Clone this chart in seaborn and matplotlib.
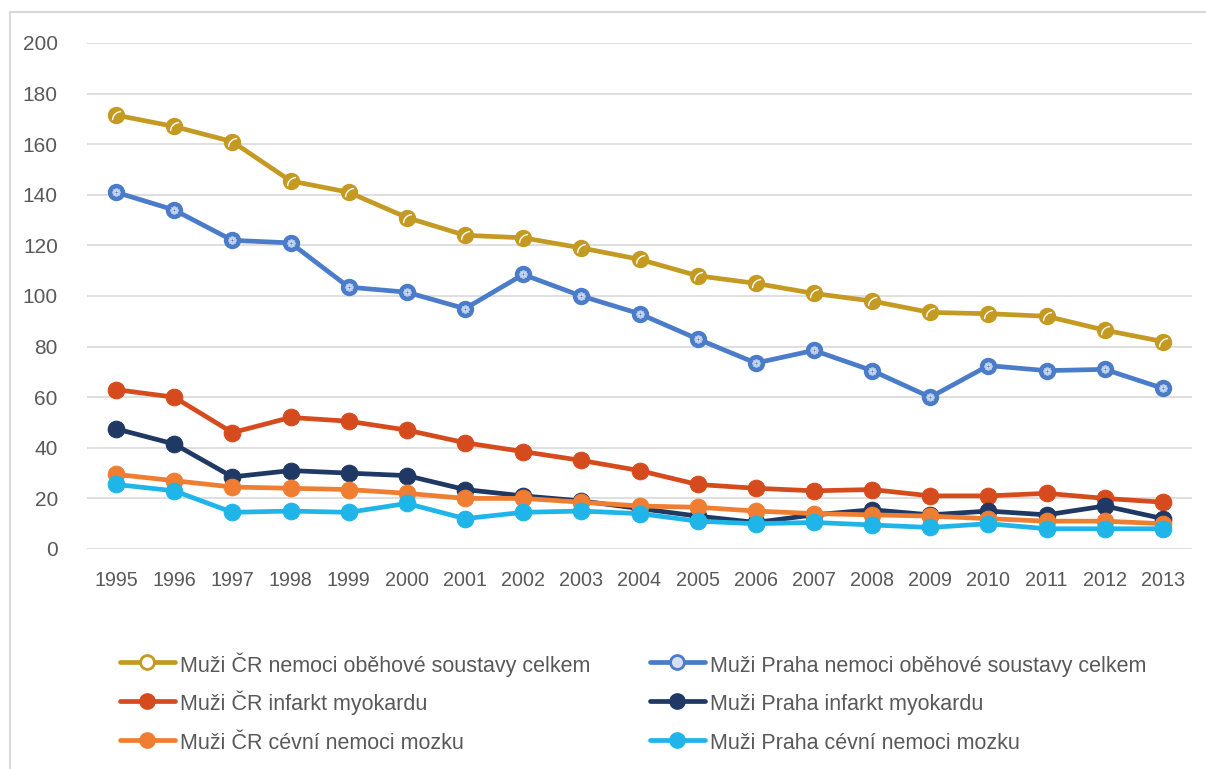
import matplotlib
matplotlib.use("Agg")
import matplotlib.pyplot as plt
import seaborn as sns
import pandas as pd
from matplotlib.lines import Line2D
from matplotlib.patches import Rectangle

sns.set_theme(style="white")
plt.rcParams['font.family'] = ['Liberation Sans', 'DejaVu Sans']

years = [str(y) for y in range(1995, 2014)]

cr_celkem = [171.5, 167, 161, 145.5, 141, 131, 124, 123, 119, 114.5, 108, 105, 101, 98, 93.5, 93, 92, 86.5, 82]
praha_celkem = [141, 134, 122, 121, 103.5, 101.5, 95, 108.5, 100, 93, 83, 73.5, 78.5, 70.5, 60, 72.5, 70.5, 71, 63.5]
cr_infarkt = [63, 60, 46, 52, 50.5, 47, 42, 38.5, 35, 31, 25.5, 24, 23, 23.5, 21, 21, 22, 20, 18.5]
praha_infarkt = [47.5, 41.5, 28.5, 31, 30, 29, 23.5, 21, 19, 16, 13, 10.5, 13.5, 15.5, 13.5, 15, 13.5, 17, 12]
cr_mozek = [29.5, 27, 24.5, 24, 23.5, 22, 20, 20, 18.5, 17, 16.5, 15, 14, 13.5, 13, 12, 11, 11, 10]
praha_mozek = [25.5, 23, 14.5, 15, 14.5, 18, 12, 14.5, 15, 14, 11, 10, 10.5, 9.5, 8.5, 10, 8, 8, 8]

labels = [
    "Muži ČR nemoci oběhové soustavy celkem",
    "Muži Praha nemoci oběhové soustavy celkem",
    "Muži ČR infarkt myokardu",
    "Muži Praha infarkt myokardu",
    "Muži ČR cévní nemoci mozku",
    "Muži Praha cévní nemoci mozku",
]
series = [cr_celkem, praha_celkem, cr_infarkt, praha_infarkt, cr_mozek, praha_mozek]
colors = ["#C49A22", "#4A7CC9", "#D64B1E", "#1F3864", "#F07E32", "#1FB5E8"]

fig = plt.figure(figsize=(12.06, 7.69), dpi=100)
ax = fig.add_axes([87/1206, 1-549/769, (1192-87)/1206, (549-43)/769])

for i in range(6):
    df = pd.DataFrame({"year": years, "value": series[i]})
    c = colors[i]
    if i == 0:
        sns.lineplot(data=df, x="year", y="value", ax=ax, color=c, linewidth=3.4,
                     marker="o", markersize=11, markerfacecolor=c, markeredgecolor=c,
                     markeredgewidth=1.5, zorder=3 + i)
        sns.scatterplot(data=df, x="year", y="value", ax=ax, color="white", marker="$\u25DC$",
                        s=45, linewidth=0, zorder=3.5 + i, legend=False)
    elif i == 1:
        sns.lineplot(data=df, x="year", y="value", ax=ax, color=c, linewidth=3.4,
                     marker="o", markersize=11, markerfacecolor=c, markeredgecolor=c,
                     markeredgewidth=1.5, zorder=3 + i)
        sns.scatterplot(data=df, x="year", y="value", ax=ax, color="white", marker="$\u2741$",
                        s=40, linewidth=0, zorder=3.5 + i, legend=False)
    else:
        sns.lineplot(data=df, x="year", y="value", ax=ax, color=c, linewidth=3.4,
                     marker="o", markersize=12, markerfacecolor=c, markeredgecolor=c,
                     zorder=3 + i)

ax.set_xlim(-0.5, len(years) - 0.5)
ax.set_ylim(0, 200)
ax.set_yticks(range(0, 201, 20))
ax.yaxis.grid(True, color="#D9D9D9", linewidth=1.2)
ax.xaxis.grid(False)
for s in ax.spines.values():
    s.set_visible(False)
ax.set_xlabel("")
ax.set_ylabel("")
ax.tick_params(axis="both", length=0, labelcolor="#595959")
ax.tick_params(axis="x", labelsize=14.2, pad=16)
ax.tick_params(axis="y", labelsize=15, pad=21)
ax.set_axisbelow(True)

# legend (row-major order like the reference)
handles = []
for i in range(6):
    c = colors[i]
    if i == 0:
        h = Line2D([], [], color=c, linewidth=3.4, marker="o", markersize=10,
                   markerfacecolor="white", markeredgecolor=c, markeredgewidth=2)
    elif i == 1:
        h = Line2D([], [], color=c, linewidth=3.4, marker="o", markersize=10,
                   markerfacecolor="#D5E0F3", markeredgecolor=c, markeredgewidth=2)
    else:
        h = Line2D([], [], color=c, linewidth=3.4, marker="o", markersize=11,
                   markerfacecolor=c, markeredgecolor=c)
    handles.append(h)
order = [0, 2, 4, 1, 3, 5]

leg = fig.legend([handles[k] for k in order], [labels[k] for k in order], ncol=2,
                 loc="upper left", bbox_to_anchor=(120/1206, 1-652/769), frameon=False,
                 fontsize=15.5, handlelength=2.55, handletextpad=0.25, handleheight=1.4,
                 columnspacing=2.75, labelspacing=0.65, borderaxespad=0, borderpad=0)
for t in leg.get_texts():
    t.set_color("#595959")

# outer border (right and bottom edges lie outside the image)
fig.patches.append(Rectangle((10/1206, -0.05), 1.1, 1.05 - 12/769,
                             transform=fig.transFigure, fill=False,
                             edgecolor="#D9D9D9", linewidth=1.5))

fig.savefig("out.png", dpi=100)
